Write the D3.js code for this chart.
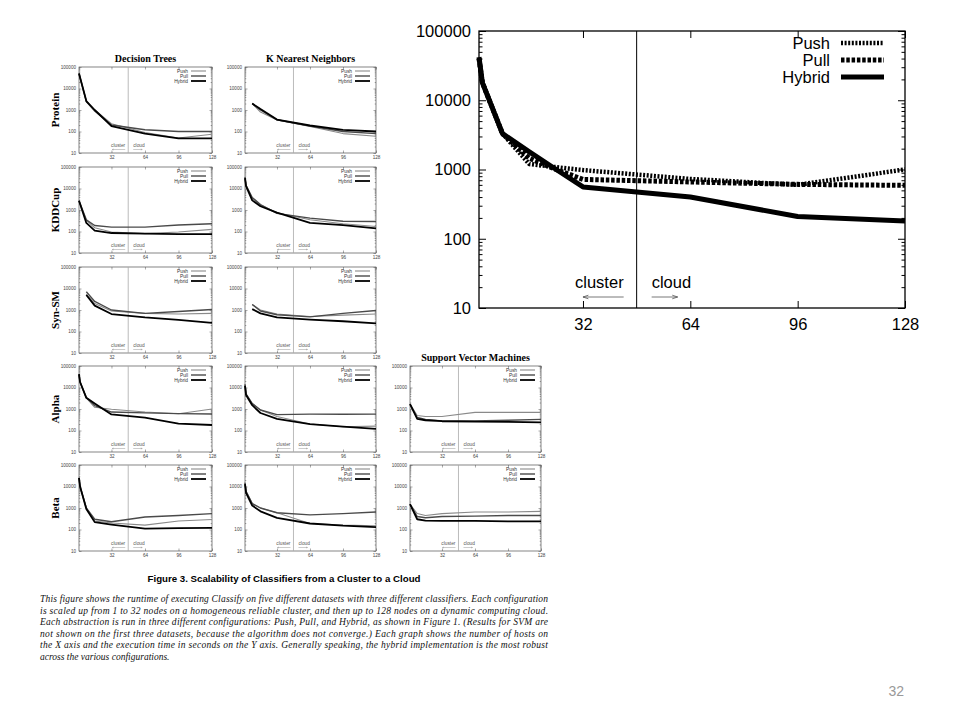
<!DOCTYPE html>
<html><head><meta charset="utf-8">
<script src="https://cdn.jsdelivr.net/npm/d3@7"></script>
<style>body{margin:0;background:#fff}</style>
</head><body>
<svg id="c" width="960" height="720"></svg>
<script>
// ---------- data ----------
const seriesNames = ["Push", "Pull", "Hybrid"];
const yTickValues = [10, 100, 1000, 10000, 100000];
const xTickValues = [32, 64, 96, 128];
const splitHost = 48;

// big chart (Alpha / Decision Trees, enlarged)
const bigHosts = [1, 2, 8, 16, 24, 32, 64, 96, 128];
const bigPush = [40000, 18000, 3300, 1200, 1080, 980, 730, 600, 1000];
const bigPull = [40000, 18000, 3300, 1450, 1000, 720, 660, 610, 590];
const bigHybrid = [42000, 18000, 3300, 1800, 1000, 560, 400, 210, 180];

// small charts: [push, pull, hybrid] at smallHosts
const smallHosts = [1, 2, 8, 16, 32, 64, 96, 128];
const proteinDT = [[50000, null, 2500, 1000, 230, 90, 50, 75],
                   [50000, null, 2500, 900, 200, 120, 100, 100],
                   [50000, null, 2600, 1000, 180, 80, 48, 48]];
const proteinKNN = [[null, null, 2000, 800, 340, 170, 80, 60],
                    [null, null, 2000, 1000, 350, 180, 100, 80],
                    [null, null, 2000, 1100, 360, 190, 120, 100]];
const kddDT = [[2700, null, 330, 150, 95, 80, 95, 125],
               [2700, null, 350, 190, 160, 160, 200, 230],
               [2700, null, 250, 110, 85, 80, 75, 75]];
const kddKNN = [[34000, 14000, 3500, 1700, 750, 350, 230, 170],
                [34000, 14000, 3800, 1800, 700, 420, 300, 290],
                [30000, 13000, 2800, 1500, 750, 250, 200, 140]];
const synDT = [[null, null, 5500, 2000, 900, 700, 650, 700],
               [null, null, 7000, 2500, 1000, 700, 850, 1050],
               [null, null, 5000, 1600, 650, 450, 350, 250]];
const synKNN = [[null, null, 1800, 1000, 650, 500, 580, 650],
                [null, null, 1800, 900, 600, 480, 700, 950],
                [null, null, 1100, 700, 450, 360, 300, 240]];
const alphaDT = [[40000, 18000, 3300, 1200, 980, 730, 600, 1000],
                 [40000, 18000, 3300, 1450, 720, 660, 610, 590],
                 [42000, 18000, 3300, 1800, 560, 400, 210, 180]];
const alphaKNN = [[14000, 5000, 1800, 900, 450, 200, 150, 160],
                  [14000, 5000, 1800, 900, 550, 580, 570, 580],
                  [12000, 4500, 1500, 650, 350, 200, 150, 120]];
const alphaSVM = [[1700, null, 500, 450, 450, 700, 700, 700],
                  [1700, null, 400, 330, 280, 280, 300, 330],
                  [1700, null, 350, 300, 270, 260, 250, 240]];
const betaDT = [[25000, 10000, 1000, 250, 200, 160, 250, 290],
                [25000, 10000, 1000, 300, 230, 380, 450, 550],
                [25000, 10000, 900, 220, 170, 110, 115, 120]];
const betaKNN = [[15000, 6000, 1600, 1000, 600, 190, 160, 150],
                 [15000, 6000, 1600, 1000, 600, 480, 550, 650],
                 [13000, 5000, 1300, 700, 350, 190, 150, 130]];
const betaSVM = [[1500, null, 550, 450, 550, 650, 650, 700],
                 [1500, null, 400, 350, 400, 420, 450, 450],
                 [1500, null, 300, 260, 250, 250, 240, 240]];

const rowLabels = ["Protein", "KDDCup", "Syn-SM", "Alpha", "Beta"];
const colTitles = ["Decision Trees", "K Nearest Neighbors", "Support Vector Machines"];
const captionTitle = "Figure 3. Scalability of Classifiers from a Cluster to a Cloud";
const captionLines = [
  "This figure shows the runtime of executing Classify on five different datasets with three different classifiers. Each configuration",
  "is scaled up from 1 to 32 nodes on a homogeneous reliable cluster, and then up to 128 nodes on a dynamic computing cloud.",
  "Each abstraction is run in three different configurations: Push, Pull, and Hybrid, as shown in Figure 1. (Results for SVM are",
  "not shown on the first three datasets, because the algorithm does not converge.) Each graph shows the number of hosts on",
  "the X axis and the execution time in seconds on the Y axis. Generally speaking, the hybrid implementation is the most robust",
  "across the various configurations."
];
const pageNumber = "32";

// ---------- helpers ----------
const svg = d3.select("#c");
const minorTicks = [];
[10, 100, 1000, 10000].forEach(d => { for (let k = 2; k <= 9; k++) minorTicks.push(k * d); });

function drawAxes(g, x, y, o) {
  const l = o.left, r = o.right, t = o.top, b = o.bottom;
  const styleAxis = (sel, fs) => {
    sel.select(".domain").remove();
    sel.selectAll("line").attr("stroke", o.tickColor).attr("stroke-width", o.tickWidth);
    sel.selectAll("text").attr("font-family", o.font).attr("font-size", fs).attr("fill", o.labelColor);
  };
  svg.append("g").attr("transform", `translate(${l},0)`)
    .call(d3.axisLeft(y).tickValues(yTickValues).tickFormat(d3.format("d")).tickSizeInner(-o.major).tickSizeOuter(0).tickPadding(o.ypad))
    .call(s => styleAxis(s, o.fs));
  svg.append("g").attr("transform", `translate(${l},0)`)
    .call(d3.axisLeft(y).tickValues(minorTicks).tickFormat("").tickSizeInner(-o.minor).tickSizeOuter(0))
    .call(s => styleAxis(s, o.fs));
  svg.append("g").attr("transform", `translate(${r},0)`)
    .call(d3.axisRight(y).tickValues(yTickValues).tickFormat("").tickSizeInner(-o.major).tickSizeOuter(0))
    .call(s => styleAxis(s, o.fs));
  svg.append("g").attr("transform", `translate(${r},0)`)
    .call(d3.axisRight(y).tickValues(minorTicks).tickFormat("").tickSizeInner(-o.minor).tickSizeOuter(0))
    .call(s => styleAxis(s, o.fs));
  svg.append("g").attr("transform", `translate(0,${b})`)
    .call(d3.axisBottom(x).tickValues(xTickValues).tickFormat(d3.format("d")).tickSizeInner(-o.major).tickSizeOuter(0).tickPadding(o.xpad))
    .call(s => styleAxis(s, o.fs));
  svg.append("g").attr("transform", `translate(0,${t})`)
    .call(d3.axisTop(x).tickValues(xTickValues).tickFormat("").tickSizeInner(-o.major).tickSizeOuter(0))
    .call(s => styleAxis(s, o.fs));
  svg.append("rect").attr("x", l).attr("y", t).attr("width", r - l).attr("height", b - t)
    .attr("fill", "none").attr("stroke", o.frameColor).attr("stroke-width", o.frameWidth);
}

function arrow(x1, x2, yy, head, color, w) {
  const dir = x2 < x1 ? 1 : -1;
  svg.append("path")
    .attr("d", `M${x1},${yy}L${x2},${yy}M${x2 + dir * head * 1.8},${yy - head * 0.6}L${x2},${yy}L${x2 + dir * head * 1.8},${yy + head * 0.6}`)
    .attr("fill", "none").attr("stroke", color).attr("stroke-width", w);
}

// ---------- big chart ----------
(function () {
  const L = 479, R = 905, T = 31, B = 308;
  const x = d3.scaleLinear().domain([1, 128]).range([L, R]);
  const y = d3.scaleLog().domain([10, 100000]).range([B, T]);
  const font = "'Liberation Sans', Arial, sans-serif";
  drawAxes(svg, x, y, { left: L, right: R, top: T, bottom: B, major: 7, minor: 3.5, ypad: 8, xpad: 10,
    fs: 16.5, font, tickColor: "#000", tickWidth: 1, labelColor: "#000", frameColor: "#000", frameWidth: 1.3 });
  const xs = x(splitHost);
  svg.append("line").attr("x1", xs).attr("x2", xs).attr("y1", T).attr("y2", B).attr("stroke", "#000").attr("stroke-width", 1);
  const styles = [
    { dash: "2,1.6", w: 4.5 },
    { dash: "3.5,1.8", w: 5 },
    { dash: null, w: 5 }
  ];
  const vals = [bigPush, bigPull, bigHybrid];
  const line = d3.line().x(d => x(d[0])).y(d => y(d[1]));
  vals.forEach((v, i) => {
    const pts = bigHosts.map((h, j) => [h, v[j]]);
    svg.append("path").attr("d", line(pts)).attr("fill", "none").attr("stroke", "#000")
      .attr("stroke-width", styles[i].w).attr("stroke-dasharray", styles[i].dash).attr("stroke-linejoin", "round");
  });
  // legend
  seriesNames.forEach((n, i) => {
    const cy = 43 + i * 17;
    svg.append("text").attr("x", 830).attr("y", cy + 6).attr("text-anchor", "end")
      .attr("font-family", font).attr("font-size", 16.5).text(n);
    svg.append("line").attr("x1", 841).attr("x2", 884).attr("y1", cy).attr("y2", cy).attr("stroke", "#000")
      .attr("stroke-width", styles[i].w).attr("stroke-dasharray", styles[i].dash);
  });
  svg.append("text").attr("x", xs - 13).attr("y", B - 20).attr("text-anchor", "end")
    .attr("font-family", font).attr("font-size", 16.5).text("cluster");
  svg.append("text").attr("x", xs + 15).attr("y", B - 20)
    .attr("font-family", font).attr("font-size", 16.5).text("cloud");
  arrow(xs - 13, x(32), B - 11, 3, "#555", 0.8);
  arrow(xs + 15, xs + 41, B - 11, 3, "#555", 0.8);
})();

// ---------- small multiples ----------
const grid = [[proteinDT, proteinKNN, null], [kddDT, kddKNN, null], [synDT, synKNN, null],
              [alphaDT, alphaKNN, alphaSVM], [betaDT, betaKNN, betaSVM]];
const colLeft = [79, 245, 410], colWidth = [133, 131, 131];
const rowTop = [67, 167, 267, 366, 465], rowH = 86;
const smallStyles = [
  { c: "#8a8a8a", w: 1.1 },
  { c: "#4a4a4a", w: 1.4 },
  { c: "#000", w: 1.8 }
];
const sFont = "'Liberation Sans', Arial, sans-serif";
const serif = "'Liberation Serif', 'Times New Roman', serif";

grid.forEach((row, ri) => {
  row.forEach((data, ci) => {
    if (!data) return;
    const L = colLeft[ci], R = L + colWidth[ci], T = rowTop[ri], B = T + rowH;
    const x = d3.scaleLinear().domain([1, 128]).range([L, R]);
    const y = d3.scaleLog().domain([10, 100000]).range([B, T]);
    drawAxes(svg, x, y, { left: L, right: R, top: T, bottom: B, major: 2.5, minor: 1.3, ypad: 3, xpad: 3,
      fs: 4.6, font: sFont, tickColor: "#555", tickWidth: 0.5, labelColor: "#444", frameColor: "#333", frameWidth: 0.6 });
    const xs = x(splitHost);
    svg.append("line").attr("x1", xs).attr("x2", xs).attr("y1", T).attr("y2", B).attr("stroke", "#aaa").attr("stroke-width", 0.8);
    const line = d3.line().x(d => x(d[0])).y(d => y(d[1]));
    data.forEach((v, i) => {
      const pts = smallHosts.map((h, j) => [h, v[j]]).filter(d => d[1] != null);
      svg.append("path").attr("d", line(pts)).attr("fill", "none").attr("stroke", smallStyles[i].c)
        .attr("stroke-width", smallStyles[i].w).attr("stroke-linejoin", "round");
    });
    seriesNames.forEach((n, i) => {
      const cy = T + 4 + i * 5;
      svg.append("text").attr("x", R - 24).attr("y", cy + 1.7).attr("text-anchor", "end")
        .attr("font-family", sFont).attr("font-size", 4.8).attr("fill", "#333").text(n);
      svg.append("line").attr("x1", R - 21).attr("x2", R - 6).attr("y1", cy).attr("y2", cy)
        .attr("stroke", smallStyles[i].c).attr("stroke-width", smallStyles[i].w);
    });
    svg.append("text").attr("x", xs - 3).attr("y", B - 6.5).attr("text-anchor", "end")
      .attr("font-family", sFont).attr("font-size", 4.8).attr("fill", "#555").text("cluster");
    svg.append("text").attr("x", xs + 5).attr("y", B - 6.5)
      .attr("font-family", sFont).attr("font-size", 4.8).attr("fill", "#555").text("cloud");
    arrow(xs - 3, xs - 16, B - 3.5, 0.8, "#999", 0.5);
    arrow(xs + 5, xs + 14, B - 3.5, 0.8, "#999", 0.5);
  });
});

// column titles
[[0, 62], [1, 62], [2, 361]].forEach(([ci, yy]) => {
  svg.append("text").attr("x", colLeft[ci] + colWidth[ci] / 2).attr("y", yy).attr("text-anchor", "middle")
    .attr("font-family", serif).attr("font-weight", "bold").attr("font-size", 10).text(colTitles[ci]);
});
// row labels
rowLabels.forEach((t, ri) => {
  const cy = rowTop[ri] + rowH / 2;
  svg.append("text").attr("transform", `translate(59,${cy}) rotate(-90)`).attr("text-anchor", "middle")
    .attr("font-family", serif).attr("font-weight", "bold").attr("font-size", 11).text(t);
});

// caption
svg.append("text").attr("x", 284).attr("y", 582).attr("text-anchor", "middle")
  .attr("font-family", sFont).attr("font-weight", "bold").attr("font-size", 9.7).text(captionTitle);
captionLines.forEach((t, i) => {
  const tx = svg.append("text").attr("x", 40).attr("y", 602 + i * 11.6)
    .attr("font-family", serif).attr("font-style", "italic").attr("font-size", 9.5).attr("fill", "#111").text(t);
  if (i < captionLines.length - 1) tx.attr("textLength", 508).attr("lengthAdjust", "spacing");
});

// page number
svg.append("text").attr("x", 904).attr("y", 696).attr("text-anchor", "end")
  .attr("font-family", sFont).attr("font-size", 14).attr("fill", "#999").text(pageNumber);
</script>
</body></html>
